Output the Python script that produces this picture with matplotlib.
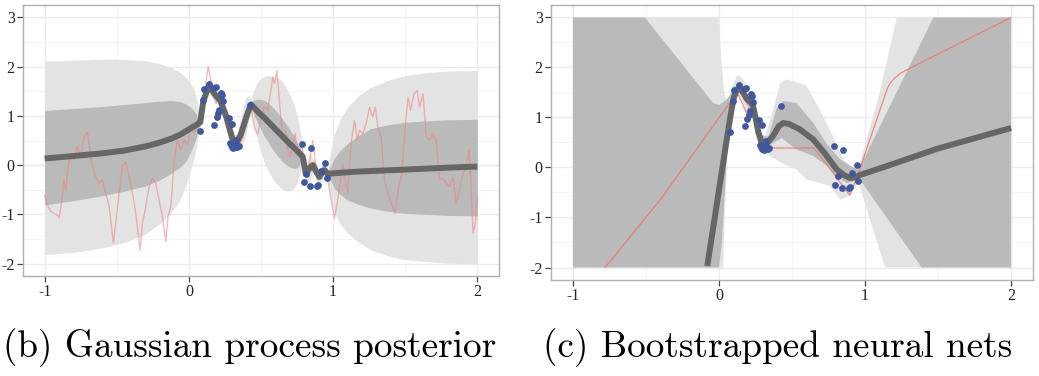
import numpy as np
import matplotlib
matplotlib.use("Agg")
import matplotlib.pyplot as plt
from matplotlib.ticker import MultipleLocator

plt.rcParams['axes.unicode_minus'] = False

# ---------------- data: observations (shared) ----------------
obs_x = [0.077, 0.095, 0.105, 0.14, 0.17, 0.176, 0.185, 0.195, 0.205, 0.21, 0.222, 0.228,
         0.235, 0.276, 0.298, 0.283, 0.29, 0.297, 0.305, 0.312, 0.325, 0.333, 0.345, 0.425,
         0.787, 0.85, 0.795, 0.812, 0.843, 0.888, 0.898, 0.913, 0.947, 0.955]
obs_y = [0.70, 1.32, 1.55, 1.65, 1.57, 0.82, 1.58, 0.97, 1.05, 1.12, 1.47, 1.43,
         1.30, 0.95, 0.84, 0.44, 0.40, 0.36, 0.34, 0.45, 0.52, 0.36, 0.38, 1.23,
         0.43, 0.34, -0.35, -0.17, -0.42, -0.42, -0.40, -0.12, 0.05, -0.27]

# ---------------- (b) Gaussian process posterior ----------------
gp_x = [-1.0, -0.8, -0.6, -0.45, -0.3, -0.2, -0.12, -0.06, -0.02, 0.01, 0.03, 0.05, 0.065, 0.079,
        0.10, 0.14, 0.176, 0.22, 0.257, 0.30, 0.33, 0.36, 0.39, 0.415,
        0.43, 0.44, 0.46, 0.49, 0.52, 0.55, 0.58, 0.61, 0.64, 0.67, 0.70, 0.73, 0.75, 0.77, 0.78, 0.79,
        0.81, 0.835, 0.86, 0.88, 0.905, 0.925, 0.94,
        0.963, 0.975, 0.99, 1.01, 1.05, 1.1, 1.18, 1.26, 1.38, 1.5, 1.65, 1.8, 2.0]
gp_mean = [0.135, 0.185, 0.24, 0.295, 0.38, 0.46, 0.54, 0.62, 0.69, 0.745, 0.78, 0.81, 0.84, 0.87,
           1.30, 1.62, 1.45, 1.30, 1.00, 0.55, 0.45, 0.62, 0.90, 1.12,
           1.23, 1.20, 1.14, 1.05, 0.97, 0.88, 0.79, 0.70, 0.61, 0.52, 0.43, 0.35, 0.29, 0.23, 0.20, 0.17,
           -0.17, -0.06, 0.00, -0.12, -0.24, -0.14, -0.10,
           -0.18, -0.175, -0.17, -0.165, -0.155, -0.145, -0.13, -0.12, -0.105, -0.09, -0.07, -0.05, -0.03]
gp_light_hi = [2.11, 2.13, 2.15, 2.15, 2.12, 2.06, 1.98, 1.88, 1.78, 1.66, 1.56, 1.40, 1.18, 0.97,
               1.42, 1.76, 1.58, 1.44, 1.14, 0.70, 0.60, 0.95, 1.35, 1.42,
               1.33, 1.45, 1.60, 1.74, 1.80, 1.82, 1.81, 1.78, 1.72, 1.60, 1.44, 1.22, 1.00, 0.72, 0.52, 0.28,
               0.00, 0.25, 0.12, 0.08, -0.12, 0.05, 0.00,
               -0.06, 0.15, 0.40, 0.64, 0.93, 1.18, 1.42, 1.58, 1.72, 1.82, 1.88, 1.91, 1.92]
gp_light_lo = [-1.82, -1.77, -1.68, -1.57, -1.40, -1.18, -0.95, -0.70, -0.40, -0.12, 0.08, 0.33, 0.60, 0.77,
               1.15, 1.48, 1.32, 1.16, 0.86, 0.40, 0.30, 0.35, 0.55, 0.90,
               1.13, 0.95, 0.70, 0.35, 0.08, -0.12, -0.27, -0.39, -0.47, -0.52, -0.52, -0.46, -0.36, -0.18, -0.04, 0.07,
               -0.32, -0.35, -0.12, -0.32, -0.36, -0.30, -0.20,
               -0.30, -0.50, -0.75, -0.98, -1.20, -1.38, -1.57, -1.72, -1.84, -1.92, -1.96, -1.99, -2.00]
gp_dark_hi = [1.11, 1.15, 1.19, 1.23, 1.27, 1.30, 1.31, 1.29, 1.24, 1.18, 1.12, 1.04, 0.96, 0.92,
              1.36, 1.68, 1.51, 1.36, 1.06, 0.61, 0.51, 0.74, 1.07, 1.22,
              1.28, 1.30, 1.33, 1.34, 1.32, 1.26, 1.18, 1.08, 0.97, 0.85, 0.72, 0.58, 0.46, 0.34, 0.27, 0.22,
              -0.10, 0.05, 0.05, -0.04, -0.19, -0.08, -0.05,
              -0.12, -0.06, 0.02, 0.15, 0.30, 0.44, 0.61, 0.74, 0.82, 0.87, 0.90, 0.92, 0.93]
gp_dark_lo = [-0.81, -0.72, -0.62, -0.53, -0.42, -0.30, -0.16, -0.04, 0.08, 0.25, 0.40, 0.55, 0.72, 0.82,
              1.24, 1.56, 1.39, 1.24, 0.94, 0.49, 0.39, 0.50, 0.73, 1.02,
              1.18, 1.10, 0.96, 0.78, 0.60, 0.46, 0.32, 0.20, 0.10, 0.02, -0.04, -0.07, -0.06, 0.02, 0.08, 0.12,
              -0.24, -0.18, -0.06, -0.20, -0.29, -0.21, -0.15,
              -0.24, -0.28, -0.36, -0.48, -0.60, -0.71, -0.80, -0.87, -0.94, -0.98, -1.00, -1.02, -1.03]

gp_sample_x = [-1.0, -0.98, -0.958, -0.935, -0.912, -0.9, -0.877, -0.866, -0.854, -0.831, -0.819,
               -0.796, -0.773, -0.75, -0.727, -0.704, -0.692, -0.669, -0.646, -0.623, -0.6,
               -0.576, -0.553, -0.542, -0.523, -0.507, -0.484, -0.461, -0.438, -0.414, -0.391,
               -0.368, -0.352, -0.338, -0.322, -0.299, -0.276, -0.253, -0.23, -0.207, -0.183,
               -0.16, -0.144, -0.125, -0.102, -0.079, -0.056, -0.032, -0.009, 0.014, 0.037,
               0.06, 0.079, 0.106, 0.134, 0.153, 0.171, 0.188, 0.21, 0.233, 0.257, 0.28,
               0.303, 0.326, 0.35, 0.373, 0.396, 0.419, 0.435, 0.454, 0.477, 0.5, 0.523,
               0.546, 0.565, 0.581, 0.593, 0.611, 0.627, 0.639, 0.657, 0.674, 0.685, 0.703,
               0.72, 0.736, 0.75, 0.766, 0.782, 0.8, 0.819, 0.838, 0.859, 0.875, 0.894,
               0.912, 0.93, 0.951, 0.968, 0.986, 1.009, 1.032, 1.056, 1.067, 1.083, 1.102,
               1.125, 1.148, 1.167, 1.183, 1.206, 1.229, 1.252, 1.275, 1.292, 1.31, 1.333,
               1.356, 1.38, 1.403, 1.431, 1.454, 1.477, 1.5, 1.519, 1.537, 1.56, 1.583, 1.6,
               1.623, 1.646, 1.669, 1.692, 1.715, 1.738, 1.762, 1.785, 1.808, 1.831, 1.854,
               1.877, 1.9, 1.923, 1.942, 1.954, 1.97, 1.986, 2.0]
gp_sample_y = [-0.61, -0.81, -0.94, -0.98, -1.01, -1.08, -0.64, -0.30, -0.51, 0.10, 0.24,
               0.10, 0.37, 0.17, 0.57, 0.67, 0.44, -0.03, -0.23, -0.37, -0.30,
               -0.57, -0.84, -1.11, -1.58, -1.18, -0.57, -0.03, 0.07, -0.23, -0.57,
               -0.98, -1.38, -1.72, -1.18, -0.84, -0.44, -0.27, -0.37, -0.71, -1.04,
               -1.55, -1.04, -0.84, 0.10, 0.51, 0.31, 0.51, 0.41, 0.78, 0.64,
               0.84, 0.84, 1.45, 2.00, 1.72, 1.38, 1.25, 1.45, 1.25, 0.98, 0.91,
               0.50, 0.30, 0.40, 0.57, 0.94, 1.21, 1.08, 0.75, 0.62, 0.98, 1.18,
               1.11, 1.45, 1.78, 1.65, 1.92, 1.31, 0.91, 0.50, 0.71, 0.30, 0.17,
               0.37, 0.64, 0.37, 0.24, 0.44, -0.03, -0.24, 0.10, 0.50, 0.10, -0.30,
               -0.24, -0.03, -0.17, -0.37, -0.71, -1.08, -0.71, -0.17, 0.03, -0.34, -0.57,
               0.44, 0.91, 0.51, 0.71, 0.64, 0.84, 1.18, 0.98, 1.18, 0.78, 0.57,
               -0.30, -0.57, -0.78, -0.98, -0.44, -0.17, 0.78, 1.38, 1.11, 1.45, 1.51, 1.18,
               1.45, 0.57, 0.51, 0.64, 0.51, -0.30, -0.27, -0.37, -0.44, -0.24, -0.78,
               -0.51, -0.17, -0.03, 0.30, -0.24, -1.38, -1.18, -0.64]

# ---------------- (c) Bootstrapped neural nets ----------------
nn_mean_x = [-0.08, 0.0, 0.05, 0.08, 0.10, 0.12, 0.14, 0.165, 0.19, 0.21, 0.23, 0.25, 0.27,
             0.29, 0.31, 0.33, 0.37, 0.41, 0.44, 0.48, 0.55, 0.646, 0.72, 0.806, 0.86, 0.90,
             0.93, 0.966, 1.1, 1.5, 2.0]
nn_mean_y = [-1.97, -0.45, 0.50, 1.05, 1.38, 1.55, 1.60, 1.50, 1.37, 1.32, 1.28, 1.00, 0.70,
             0.52, 0.47, 0.49, 0.63, 0.83, 0.89, 0.87, 0.77, 0.56, 0.30, -0.04, -0.16, -0.21,
             -0.20, -0.15, -0.02, 0.38, 0.79]

nn_sample_x = [-0.78, -0.4, 0.10, 0.132, 0.19, 0.224, 0.28, 0.32, 0.65, 0.81, 0.895, 0.95,
               1.15, 1.17, 1.2, 1.24, 1.29, 2.0]
nn_sample_y = [-2.0, -0.64, 1.40, 1.46, 1.08, 1.36, 0.42, 0.39, 0.39, -0.22, -0.55, -0.15,
               1.56, 1.68, 1.78, 1.88, 1.96, 3.0]

nn_light_hi_x = [-1.0, 0.0, 0.014, 0.03, 0.04, 0.06, 0.08, 0.1, 0.13, 0.16, 0.19, 0.22, 0.25,
                 0.28, 0.315, 0.34, 0.372, 0.418, 0.46, 0.509, 0.6, 0.69, 0.78, 0.85, 0.92,
                 0.955, 1.01, 1.10, 1.217, 2.0]
nn_light_hi_y = [3.0, 3.0, 2.23, 1.69, 1.42, 1.33, 1.5, 1.69, 1.86, 1.78, 1.63, 1.45, 1.1,
                 0.76, 0.62, 0.85, 1.16, 1.69, 1.76, 1.73, 1.63, 1.16, 0.63, 0.16, -0.02,
                 -0.02, 0.55, 1.5, 3.0, 3.0]
nn_light_lo_x = [-1.0, 0.03, 0.04, 0.064, 0.09, 0.12, 0.15, 0.19, 0.22, 0.25, 0.28, 0.35, 0.43,
                 0.53, 0.6, 0.69, 0.76, 0.83, 0.9, 0.955, 1.137, 2.0]
nn_light_lo_y = [-2.0, -2.0, -0.97, 0.69, 1.2, 1.4, 1.42, 1.1, 1.15, 0.7, 0.4, 0.23, 0.09,
                 -0.04, -0.24, -0.31, -0.37, -0.64, -0.57, -0.3, -2.0, -2.0]
nn_dark_hi_x = [-1.0, -0.507, -0.04, 0.0, 0.05, 0.1, 0.13, 0.16, 0.19, 0.22, 0.25, 0.29, 0.34,
                0.395, 0.44, 0.53, 0.646, 0.74, 0.83, 0.9, 0.955, 1.468, 2.0]
nn_dark_hi_y = [3.0, 3.0, 1.29, 1.25, 1.35, 1.55, 1.68, 1.62, 1.46, 1.4, 1.0, 0.63, 0.62,
                1.19, 1.33, 1.29, 0.89, 0.46, 0.16, 0.03, -0.05, 3.0, 3.0]
nn_dark_lo_x = [-1.0, 0.0, 0.02, 0.06, 0.1, 0.13, 0.16, 0.19, 0.22, 0.25, 0.29, 0.35, 0.43,
                0.53, 0.646, 0.74, 0.806, 0.875, 0.92, 0.955, 1.388, 2.0]
nn_dark_lo_y = [-2.0, -2.0, -1.5, 0.5, 1.3, 1.5, 1.45, 1.25, 1.2, 0.8, 0.45, 0.45, 0.59,
                0.36, 0.23, 0.03, -0.17, -0.31, -0.28, -0.2, -2.0, -2.0]

x_ticks = [-1, 0, 1, 2]
y_ticks = [-2, -1, 0, 1, 2, 3]
captions = ["(b) Gaussian process posterior", "(c) Bootstrapped neural nets"]

# ---------------- styling ----------------
LIGHT = '#e3e3e3'
DARK = '#bababa'
MEAN = '#666666'
PT = '#42589e'
W, H = 1039, 376
fig = plt.figure(figsize=(W / 100, H / 100), dpi=100)


def ax_rect(l, t, r, b):
    return [l / W, 1 - b / H, (r - l) / W, (b - t) / H]


def style(ax):
    ax.set_xlim(-1.15, 2.15)
    ax.set_ylim(-2.25, 3.25)
    ax.set_xticks(x_ticks)
    ax.set_yticks(y_ticks)
    ax.set_xticklabels([str(v) for v in x_ticks])
    ax.set_yticklabels([str(v) for v in y_ticks])
    ax.xaxis.set_minor_locator(MultipleLocator(0.5))
    ax.yaxis.set_minor_locator(MultipleLocator(0.5))
    ax.grid(True, which='major', color='#ebebeb', lw=1.0, zorder=0)
    ax.grid(True, which='minor', color='#f4f4f4', lw=0.7, zorder=0)
    ax.set_axisbelow(True)
    ax.tick_params(which='major', direction='out', length=4, width=0.9, color='#444444',
                   labelsize=11.5, labelcolor='#222222', pad=2)
    ax.tick_params(which='minor', length=0)
    for lab in ax.get_xticklabels() + ax.get_yticklabels():
        lab.set_family('Liberation Serif')
    for s in ax.spines.values():
        s.set_color('#b0b0b0')
        s.set_linewidth(1.0)


# ---- panel (b)
ax1 = fig.add_axes(ax_rect(23, 5, 499, 276))
style(ax1)
ax1.fill_between(gp_x, gp_light_lo, gp_light_hi, color=LIGHT, lw=0, zorder=1)
ax1.fill_between(gp_x, gp_dark_lo, gp_dark_hi, color=DARK, lw=0, zorder=2)
ax1.plot(gp_sample_x, gp_sample_y, color='#f08080', alpha=0.55, lw=1.0, zorder=3)
ax1.plot(gp_x, gp_mean, color=MEAN, lw=4.3, solid_capstyle='butt', solid_joinstyle='round', zorder=4)
ax1.scatter(obs_x, obs_y, s=24, color=PT, lw=0, zorder=5)

# ---- panel (c)
ax2 = fig.add_axes(ax_rect(551, 5, 1033, 280))
style(ax2)
ax2.fill(np.concatenate([nn_light_hi_x, nn_light_lo_x[::-1]]),
         np.concatenate([nn_light_hi_y, nn_light_lo_y[::-1]]), color=LIGHT, lw=0, zorder=1)
ax2.fill(np.concatenate([nn_dark_hi_x, nn_dark_lo_x[::-1]]),
         np.concatenate([nn_dark_hi_y, nn_dark_lo_y[::-1]]), color=DARK, lw=0, zorder=2)
ax2.plot(nn_sample_x, nn_sample_y, color='#ee7070', alpha=0.8, lw=0.9, zorder=3)
ax2.plot(nn_mean_x, nn_mean_y, color=MEAN, lw=4.3, solid_capstyle='butt', solid_joinstyle='round', zorder=4)
ax2.scatter(obs_x, obs_y, s=24, color=PT, lw=0, zorder=5)

# ---- captions
fig.text(3 / W, 1 - 357 / H, captions[0], family='cmr10', fontsize=26.8, ha='left',
         va='baseline', color='black')
fig.text(543 / W, 1 - 357 / H, captions[1], family='cmr10', fontsize=26.8, ha='left',
         va='baseline', color='black')

fig.savefig('out.png', dpi=100)
